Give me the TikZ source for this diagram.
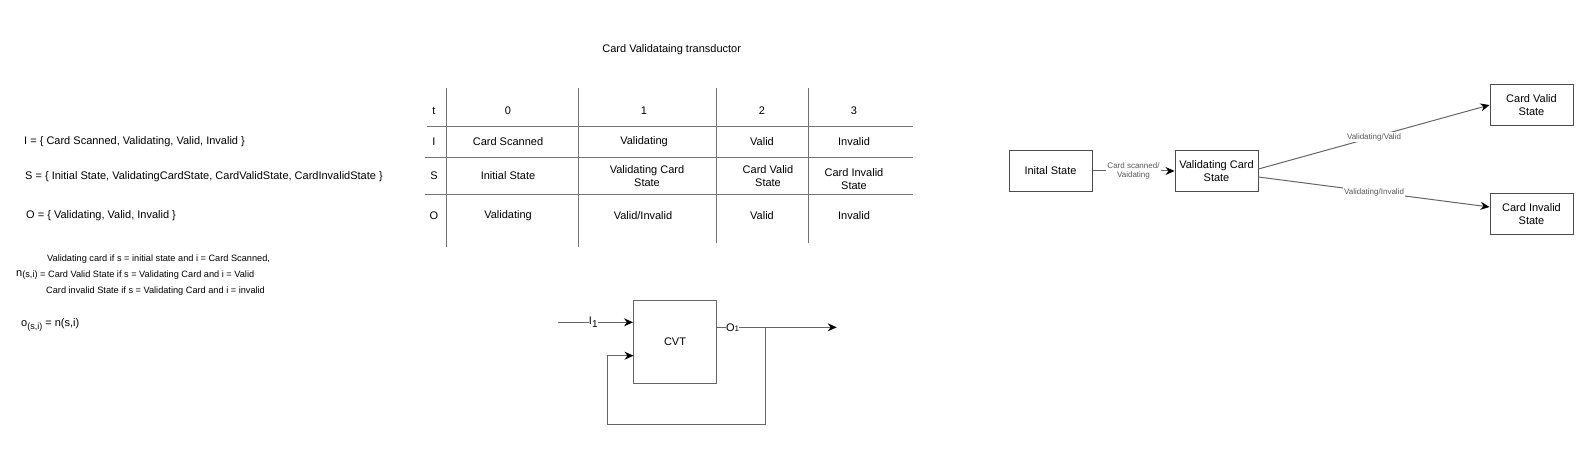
\documentclass[tikz,border=0pt]{standalone}
\usepackage{fontspec}
\setmainfont{Liberation Sans}
\usetikzlibrary{arrows.meta, positioning}
\tikzset{txt/.style = {
  inner sep=0pt,
  font=\fontsize{11}{13}\selectfont
  }}
\tikzset{note/.style = {
  txt,
  font=\fontsize{9.2}{10}\selectfont
  }}
\tikzset{cell/.style = {
  % Text
  txt,
  align=center
  }}
\tikzset{tabline/.style = {
  draw=black!55,
  line width=0.9pt
  }}
\tikzset{statebox/.style = {
  % Rectangle:
  rectangle,
  draw=black!70, line width=1pt,
  minimum width=83pt, minimum height=41pt,
  % Text
  align=center,
  font=\fontsize{11}{13}\selectfont
  }}
\tikzset{arrow/.style = {
  -{Stealth[length=9pt, width=8pt, black]},
  draw=black!60,
  line width=1pt
  }}
\tikzset{lbl/.style = {
  fill=white, inner sep=1pt,
  text=black!65, align=center,
  font=\fontsize{8}{9}\selectfont
  }}

\begin{document}
\begin{tikzpicture}[x=1pt, y=-1pt]
\useasboundingbox (0,0) rectangle (1587,457);

% SETS
\node (iset) [txt, anchor=west] at (24,142) {I = \{ Card Scanned, Validating, Valid, Invalid \}};
\node (sset) [txt, anchor=west] at (25,177) {S = \{ Initial State, ValidatingCardState, CardValidState, CardInvalidState \}};
\node (oset) [txt, anchor=west] at (26,216) {O = \{ Validating, Valid, Invalid \}};

\node (nrow1) [note, anchor=west] at (47,259) {Validating card if s = initial state and i = Card Scanned,};
\node (nrow2) [note, anchor=west] at (16,275) {\raisebox{1.5pt}{\fontsize{11}{13}\selectfont n}(s,i) = Card Valid State if s = Validating Card and i = Valid};
\node (nrow3) [note, anchor=west] at (46,291) {Card invalid State if s = Validating Card and i = invalid};
\node (ofun) [txt, anchor=west] at (21,325) {o\raisebox{-3pt}{\fontsize{9}{10}\selectfont(s,i)} = n(s,i)};

% TABLE
\node (title) [txt] at (671.7,50) {Card Validataing transductor};

\draw [tabline] (446.7,88) -- (446.7,247);
\draw [tabline] (578.3,88) -- (578.3,247);
\draw [tabline] (716,88) -- (716,243);
\draw [tabline] (808.3,88) -- (808.3,243);
\draw [tabline] (427,126) -- (913,126);
\draw [tabline] (425,157) -- (913,157);
\draw [tabline] (425,194) -- (913,194);

\node (tt) [cell] at (434,111) {t};
\node (t0) [cell] at (508,111) {0};
\node (t1) [cell] at (644,111) {1};
\node (t2) [cell] at (762,111) {2};
\node (t3) [cell] at (854,111) {3};

\node (ii) [cell] at (434,141.5) {I};
\node (i0) [cell] at (508,141.5) {Card Scanned};
\node (i1) [cell] at (644,141.5) {Validating};
\node (i2) [cell] at (762,141.5) {Valid};
\node (i3) [cell] at (854,141.5) {Invalid};

\node (ss) [cell] at (434,176) {S};
\node (s0) [cell] at (508,176) {Initial State};
\node (s1) [cell] at (647,176) {Validating Card\\State};
\node (s2) [cell] at (768,176) {Card Valid\\State};
\node (s3) [cell] at (854,179) {Card Invalid\\State};

\node (oo) [cell] at (434,215.5) {O};
\node (o0) [cell] at (508,215.5) {Validating};
\node (o1) [cell] at (643,215.5) {Valid/Invalid};
\node (o2) [cell] at (762,215.5) {Valid};
\node (o3) [cell] at (854,215.5) {Invalid};

% CVT BLOCK
\node (cvt) [rectangle, draw=black!60, line width=1pt, minimum width=83pt, minimum height=83pt, txt] at (675,342) {CVT};
\coordinate (in) at (558,322.3);
\coordinate (out) at (836.7,327.3);
\coordinate (split) at (765,327.3);
\coordinate (loopbl) at (607.7,424);
\coordinate (fbin) at (633.5,355.7);

\draw [arrow] (in) -- node [pos=0.47, fill=white, inner sep=1pt, txt] {I\raisebox{-2.5pt}{\fontsize{10}{10}\selectfont 1}} (in -| cvt.west);
\draw [arrow] (out -| cvt.east) -- node [pos=0.13, fill=white, inner sep=1pt, txt] {O{\fontsize{8}{8}\selectfont 1}} (out);
\draw [arrow] (split) |- (loopbl) |- (fbin);

% STATES
\node (init) [statebox] at (1050.5,171) {Inital State};
\node (checking) [statebox, right=82pt of init] {Validating Card\\State};
\node (cvalid) [statebox] at (1531.5,105) {Card Valid\\State};
\node (cinvalid) [statebox] at (1531.5,214) {Card Invalid\\State};

% arrows
\draw [arrow] (init) -- node [lbl] {Card scanned/\\Vaidating} (checking);
\draw [arrow] ([yshift=2pt]checking.east) -- node [lbl] {Validating/Valid} (cvalid.west);
\draw [arrow] ([yshift=-6pt]checking.east) -- node [lbl] {Validating/Invalid} ([yshift=7pt]cinvalid.west);
\end{tikzpicture}
\end{document}
